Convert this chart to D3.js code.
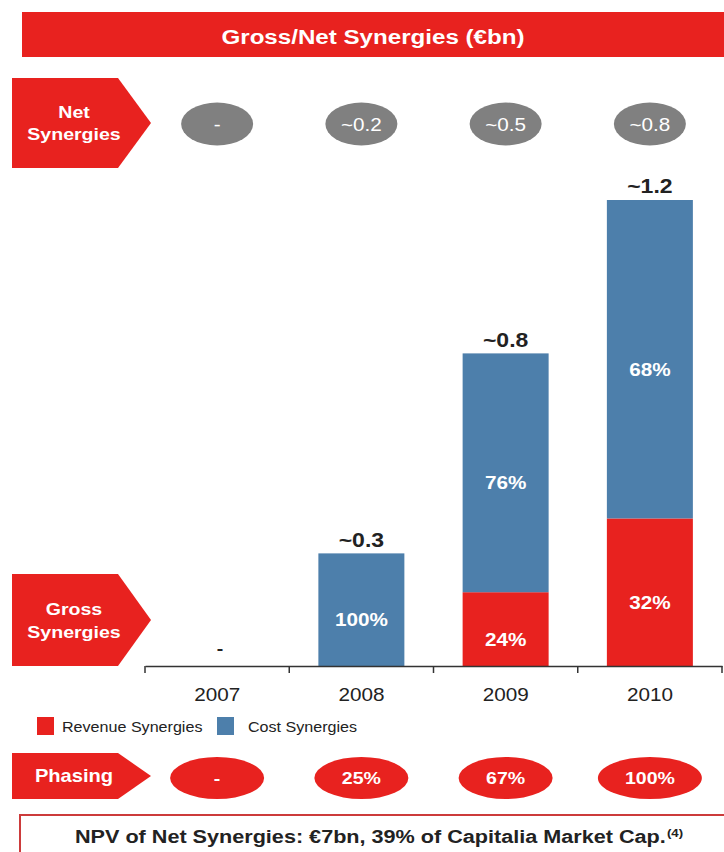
<!DOCTYPE html>
<html>
<head>
<meta charset="utf-8">
<script src="https://cdn.jsdelivr.net/npm/d3@7"></script>
<style>
  body { margin: 0; background: #fff; }
  svg { display: block; font-family: "Liberation Sans", Arial, sans-serif; }
</style>
</head>
<body>
<div id="chart"></div>
<script>
// data
let years = ["2007", "2008", "2009", "2010"];
let revenueSynergies = [0, 0, 0.19, 0.38];
let costSynergies = [0, 0.29, 0.615, 0.82];
let revenueLabels = ["", "", "24%", "32%"];
let costLabels = ["", "100%", "76%", "68%"];
let totalLabels = ["-", "~0.3", "~0.8", "~1.2"];
let netSynergies = ["-", "~0.2", "~0.5", "~0.8"];
let phasing = ["-", "25%", "67%", "100%"];

const RED = "#e8221f";
const BLUE = "#4d7fab";
const GREY = "#808080";
const SX = 1.15; // the slide's type is a bit wider than Arial

let width = 724, height = 852;
let svg = d3.select("#chart").append("svg")
    .attr("width", width)
    .attr("height", height);

let x = d3.scaleBand().domain(years).range([145, 722]).paddingInner(0).paddingOuter(0);
let y = d3.scaleLinear().domain([0, 1.2]).range([666, 200]);
let barW = 86;
let cx = d => x(d) + x.bandwidth() / 2;

// text helper: centred, slightly stretched horizontally
function label(parent, px, py, str, size, fill, bold) {
    return parent.append("text")
        .attr("transform", `translate(${px},${py}) scale(${SX},1)`)
        .attr("text-anchor", "middle")
        .attr("dy", "0.36em")
        .attr("fill", fill)
        .attr("font-size", size)
        .attr("font-weight", bold ? "bold" : "normal")
        .text(str);
}

// title bar
svg.append("rect").attr("x", 22).attr("y", 12).attr("width", 702).attr("height", 45).attr("fill", RED);
label(svg, 373, 36, "Gross/Net Synergies (€bn)", 21, "#fff", true);

// arrow shaped side labels
function arrowLabel(top, bottom, lines, fontSize, lineGap) {
    let mid = (top + bottom) / 2;
    svg.append("path")
        .attr("d", `M12,${top}L118,${top}L151,${mid}L118,${bottom}L12,${bottom}Z`)
        .attr("fill", RED);
    let start = mid - (lines.length - 1) * lineGap / 2;
    lines.forEach((l, i) => label(svg, 74, start + i * lineGap, l, fontSize, "#fff", true));
}
arrowLabel(78, 168, ["Net", "Synergies"], 17, 22);
arrowLabel(574, 666, ["Gross", "Synergies"], 17, 23);
arrowLabel(753, 799, ["Phasing"], 17.5, 0);

// net synergies ellipses
let net = svg.append("g");
years.forEach((d, i) => {
    net.append("ellipse").attr("cx", cx(d)).attr("cy", 124).attr("rx", 36).attr("ry", 21.5).attr("fill", GREY);
    label(net, cx(d), 125, netSynergies[i], 18, "#fff", false);
});

// stacked bars
let rows = years.map((d, i) => ({year: d, revenue: revenueSynergies[i], cost: costSynergies[i]}));
let stack = d3.stack().keys(["revenue", "cost"])(rows);
let colors = {revenue: RED, cost: BLUE};
let segLabels = {revenue: revenueLabels, cost: costLabels};

stack.forEach(layer => {
    let g = svg.append("g");
    g.selectAll("rect").data(layer).enter().append("rect")
        .attr("x", d => cx(d.data.year) - barW / 2)
        .attr("width", barW)
        .attr("y", d => y(d[1]))
        .attr("height", d => y(d[0]) - y(d[1]))
        .attr("fill", colors[layer.key]);
    layer.forEach((d, i) => {
        if (segLabels[layer.key][i]) {
            label(g, cx(d.data.year), (y(d[0]) + y(d[1])) / 2 + 10, segLabels[layer.key][i], 18, "#fff", true);
        }
    });
});

// totals above the bars
let totals = svg.append("g");
rows.forEach((d, i) => {
    if (i === 0) {
        label(totals, cx(d.year) + 3, 648, totalLabels[i], 17, "#222", true);
    } else {
        label(totals, cx(d.year), y(d.revenue + d.cost) - 14, totalLabels[i], 20, "#222", true);
    }
});

// x axis
let axis = svg.append("g").attr("transform", "translate(0,666)")
    .call(d3.axisBottom(x).tickSize(0).tickPadding(22));
axis.select(".domain").attr("stroke", "#333").attr("stroke-width", 1.5);
axis.selectAll("text").attr("font-size", 18).attr("fill", "#222")
    .attr("font-family", "'Liberation Sans', Arial, sans-serif")
    .attr("transform", `scale(${SX},1)`);
let edges = years.map(d => x(d)).concat([x.range()[1]]);
axis.selectAll(".edge").data(edges).enter().append("line")
    .attr("x1", d => d).attr("x2", d => d).attr("y1", 0).attr("y2", 7)
    .attr("stroke", "#333").attr("stroke-width", 1.5);

// legend
let legendItems = [
    {name: "Revenue Synergies", color: RED, x: 37, gap: 25},
    {name: "Cost Synergies", color: BLUE, x: 217, gap: 31}
];
let lg = svg.append("g").selectAll("g").data(legendItems).enter().append("g")
    .attr("transform", d => `translate(${d.x},717)`);
lg.append("rect").attr("width", 17).attr("height", 18).attr("fill", d => d.color);
lg.append("text")
    .attr("transform", d => `translate(${d.gap},10) scale(${SX},1)`)
    .attr("dy", "0.36em")
    .attr("font-size", 14).attr("fill", "#222")
    .text(d => d.name);

// phasing ellipses
let ph = svg.append("g");
years.forEach((d, i) => {
    ph.append("ellipse").attr("cx", cx(d)).attr("cy", 778)
        .attr("rx", i === 3 ? 52 : 47).attr("ry", 21).attr("fill", RED);
    label(ph, cx(d), 778, phasing[i], 17, "#fff", true);
});

// NPV box
svg.append("rect").attr("x", 20).attr("y", 815).attr("width", 720).attr("height", 60)
    .attr("fill", "#fff").attr("stroke", "#cc3b3b").attr("stroke-width", 2);
let npv = label(svg, 379, 836, "", 18.8, "#222", true);
npv.append("tspan").text("NPV of Net Synergies: €7bn, 39% of Capitalia Market Cap.");
npv.append("tspan").attr("font-size", 11.5).attr("dx", 1).attr("dy", -6).text("(4)");
</script>
</body>
</html>
